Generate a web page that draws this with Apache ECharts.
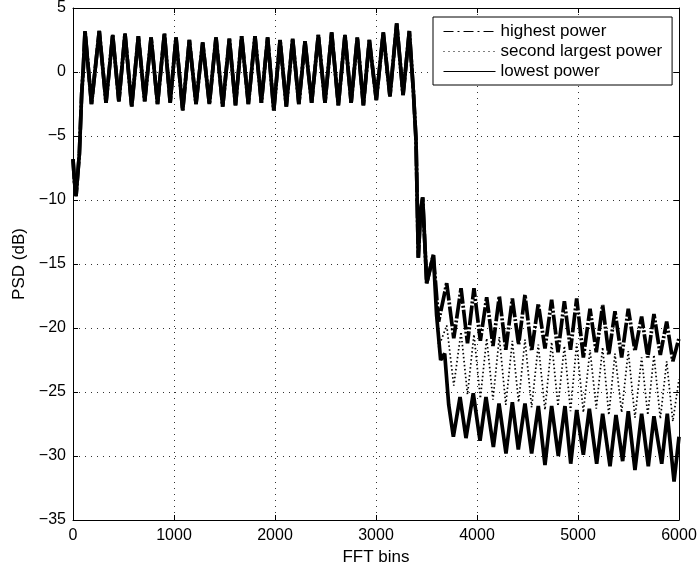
<!DOCTYPE html>
<html>
<head>
<meta charset="utf-8">
<script src="https://cdn.jsdelivr.net/npm/echarts@6/dist/echarts.min.js"></script>
<style>html,body{margin:0;padding:0;background:#fff}#c{width:700px;height:572px}</style>
</head>
<body>
<div id="c"></div>
<script>
// Shared part (passband + start of transition), all three curves coincide here
var sharedBins = [0, 15, 30, 45, 63, 86, 102, 119, 183, 260, 327, 393, 454, 515, 581, 647, 710, 773, 837, 905, 962, 1020, 1086, 1152, 1218, 1284, 1350, 1416, 1482, 1548, 1609, 1670, 1736, 1802, 1865, 1927, 1988, 2050, 2112, 2175, 2236, 2297, 2363, 2429, 2495, 2561, 2627, 2693, 2754, 2815, 2875, 2934, 3003, 3072, 3138, 3205, 3268, 3330, 3370, 3396, 3419, 3440, 3462, 3502, 3568];
var sharedPSD  = [-6.8, -8.6, -9.7, -8.2, -6.4, -1.7, 0.3, 3.2, -2.5, 3.2, -2.4, 2.9, -2.3, 3.0, -2.7, 2.8, -2.3, 2.7, -2.5, 3.0, -2.4, 2.7, -3.0, 2.5, -2.5, 2.3, -2.5, 2.7, -2.7, 2.6, -2.6, 2.8, -2.5, 2.8, -2.4, 2.7, -3.0, 2.5, -2.7, 2.6, -2.5, 2.4, -2.4, 2.9, -2.4, 3.1, -2.6, 2.9, -2.4, 2.7, -2.6, 2.5, -2.2, 3.1, -1.9, 3.8, -1.8, 3.2, -1.5, -5.3, -14.5, -11.0, -9.8, -16.5, -14.3];

// Stopband: highest power
var highBins = [3620, 3700, 3770, 3842, 3906, 3970, 4033, 4096, 4158, 4221, 4285, 4350, 4412, 4475, 4541, 4607, 4673, 4739, 4802, 4865, 4926, 4987, 5053, 5119, 5181, 5244, 5305, 5366, 5432, 5498, 5564, 5630, 5691, 5752, 5815, 5878, 5939, 6000];
var highPSD  = [-19.5, -16.5, -20.8, -16.9, -21.2, -16.9, -21.0, -17.6, -21.4, -17.5, -21.7, -17.7, -21.3, -17.4, -21.8, -18.1, -21.6, -17.8, -21.9, -17.9, -21.7, -17.7, -22.3, -18.5, -21.9, -18.2, -22.1, -18.7, -22.3, -18.5, -21.8, -19.1, -22.3, -18.9, -22.1, -19.5, -22.6, -20.8];

// Stopband: second largest power
var secondBins = [3620, 3700, 3770, 3842, 3906, 3970, 4033, 4096, 4158, 4221, 4285, 4350, 4412, 4475, 4541, 4607, 4673, 4739, 4802, 4865, 4926, 4987, 5053, 5119, 5181, 5244, 5305, 5366, 5432, 5498, 5564, 5630, 5691, 5752, 5815, 5878, 5939, 6000];
var secondPSD  = [-21.5, -19.8, -24.5, -20.3, -25.2, -20.5, -25.5, -20.8, -25.6, -20.7, -26.0, -21.0, -25.8, -20.9, -26.2, -21.3, -26.4, -21.1, -26.1, -21.4, -26.5, -21.2, -26.6, -21.7, -26.3, -21.5, -26.8, -22.0, -26.6, -21.8, -27.0, -22.3, -26.8, -22.1, -27.1, -22.6, -27.3, -24.0];

// Stopband: lowest power
var lowBins = [3600, 3640, 3680, 3720, 3766, 3832, 3891, 3963, 4030, 4089, 4162, 4218, 4287, 4350, 4409, 4475, 4541, 4607, 4673, 4739, 4805, 4871, 4928, 4987, 5053, 5112, 5185, 5244, 5317, 5376, 5442, 5498, 5564, 5630, 5696, 5752, 5829, 5884, 5951, 6000];
var lowPSD  = [-19.0, -22.5, -22.0, -26.0, -28.5, -25.4, -28.6, -25.1, -28.8, -25.4, -29.3, -25.9, -29.8, -25.8, -29.5, -25.9, -29.8, -26.1, -30.7, -26.1, -30.0, -26.1, -30.6, -26.4, -29.9, -26.3, -30.6, -26.7, -30.8, -26.8, -30.4, -26.5, -31.1, -26.7, -30.8, -26.9, -30.6, -26.7, -32.0, -28.5];

var seriesNames = ['highest power', 'second largest power', 'lowest power'];
var xTicks = [0, 1000, 2000, 3000, 4000, 5000, 6000];
var yTicks = [-35, -30, -25, -20, -15, -10, -5, 0, 5];

function build(bins, vals) {
  var out = [];
  for (var i = 0; i < sharedBins.length; i++) out.push([sharedBins[i], sharedPSD[i]]);
  for (var j = 0; j < bins.length; j++) out.push([bins[j], vals[j]]);
  return out;
}

var FONT = '"Liberation Sans", Arial, Helvetica, sans-serif';
var dashDot = [10, 4, 2, 4];
var minus = function (v) { return v < 0 ? '\u2212' + Math.abs(v) : String(v); };
var plain = function (v) { return String(v); };

var chart = echarts.init(document.getElementById('c'), null, {renderer: 'canvas'});
var gridStyle = {show: true, lineStyle: {color: '#333', width: 1, type: [1, 5]}};
var axLine = {show: true, onZero: false, lineStyle: {color: '#000', width: 1}};
var axTick = {show: true, inside: true, length: 5, lineStyle: {color: '#000'}};
var hideSym = {opacity: 0};
chart.setOption({
  animation: false,
  color: ['#000', '#000', '#000'],
  backgroundColor: '#fff',
  grid: {left: 73, right: 21, top: 8, bottom: 52, containLabel: false},
  legend: {
    orient: 'vertical',
    left: 433, top: 17,
    padding: [6, 10, 5, 10],
    itemGap: 3,
    itemWidth: 52, itemHeight: 14,
    backgroundColor: '#fff',
    borderColor: '#000', borderWidth: 1, borderRadius: 0,
    textStyle: {fontFamily: FONT, fontSize: 17, color: '#000'},
    data: [
      {name: seriesNames[0], itemStyle: hideSym, lineStyle: {type: dashDot, width: 1, color: '#000'}},
      {name: seriesNames[1], itemStyle: hideSym, lineStyle: {type: [1, 4], width: 1, color: '#000'}},
      {name: seriesNames[2], itemStyle: hideSym, lineStyle: {type: 'solid', width: 1, color: '#000'}}
    ]
  },
  xAxis: [{
    type: 'value', min: 0, max: 6000, interval: 1000, position: 'bottom',
    name: 'FFT bins', nameLocation: 'middle', nameGap: 27,
    nameTextStyle: {fontFamily: FONT, fontSize: 17, color: '#000'},
    axisLine: axLine, axisTick: axTick,
    axisLabel: {fontFamily: FONT, fontSize: 16, color: '#000', margin: 8, formatter: plain},
    splitLine: gridStyle
  }, {
    type: 'value', min: 0, max: 6000, interval: 1000, position: 'top',
    axisLine: axLine, axisTick: axTick,
    axisLabel: {show: false}, splitLine: {show: false}
  }],
  yAxis: [{
    type: 'value', min: -35, max: 5, interval: 5, position: 'left',
    name: 'PSD (dB)', nameLocation: 'middle', nameGap: 44,
    nameTextStyle: {fontFamily: FONT, fontSize: 17, color: '#000'},
    axisLine: axLine, axisTick: axTick,
    axisLabel: {fontFamily: FONT, fontSize: 16, color: '#000', margin: 7, formatter: minus},
    splitLine: gridStyle
  }, {
    type: 'value', min: -35, max: 5, interval: 5, position: 'right',
    axisLine: axLine, axisTick: axTick,
    axisLabel: {show: false}, splitLine: {show: false}
  }],
  series: [
    {name: seriesNames[1], type: 'line', symbol: 'none', showSymbol: false,
     data: build(secondBins, secondPSD), z: 2,
     lineStyle: {color: '#000', width: 1.7, type: [1.5, 2.5]}},
    {name: seriesNames[0], type: 'line', symbol: 'none', showSymbol: false,
     data: build(highBins, highPSD), z: 3,
     lineStyle: {color: '#000', width: 3.7, type: [20, 2, 2, 2]}},
    {name: seriesNames[2], type: 'line', symbol: 'none', showSymbol: false,
     data: build(lowBins, lowPSD), z: 4,
     lineStyle: {color: '#000', width: 3.7, type: 'solid'}}
  ]
});
</script>
</body>
</html>
